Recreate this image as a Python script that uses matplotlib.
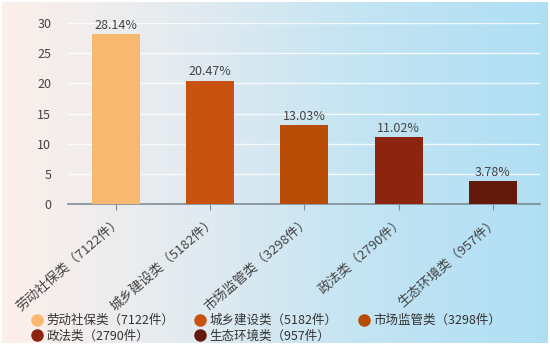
import numpy as np
import matplotlib.pyplot as plt
from matplotlib.colors import LinearSegmentedColormap
from matplotlib.lines import Line2D

plt.rcParams['font.family'] = ['Noto Sans CJK SC', 'DejaVu Sans']

# data
categories = ['劳动社保类（7122件）', '城乡建设类（5182件）', '市场监管类（3298件）',
              '政法类（2790件）', '生态环境类（957件）']
percents = [28.14, 20.47, 13.03, 11.02, 3.78]
colors = ['#f8b870', '#c8520f', '#b94c04', '#8c2410', '#641a0a']

fig = plt.figure(figsize=(5.5, 3.45), dpi=100)

# background gradient pink -> light blue
bg = fig.add_axes([0.004, 0.006, 0.992, 0.988], zorder=-10)
cmap = LinearSegmentedColormap.from_list('bg', ['#fdefea', '#e3ebf0', '#c3e4f3', '#b0dff5'])
grad = np.linspace(0, 1, 256).reshape(1, -1)
bg.imshow(grad, aspect='auto', cmap=cmap, extent=[0, 1, 0, 1])
bg.axis('off')

ax = fig.add_axes([0.1236, 0.409, 0.858, 0.524])
ax.patch.set_alpha(0)
x = np.arange(len(categories))
bars = ax.bar(x, percents, width=0.51, color=colors, zorder=3)
for xi, p in zip(x, percents):
    ax.text(xi, p + 0.4, f'{p:.2f}%', ha='center', va='bottom', fontsize=9, color='#444444')

ax.set_ylim(0, 30)
ax.set_xlim(-0.51, 4.5)
ax.set_yticks([0, 5, 10, 15, 20, 25, 30])
ax.yaxis.grid(True, color='white', linewidth=1, alpha=0.8, zorder=0)
ax.set_xticks(x)
ax.set_xticklabels(categories, rotation=41, ha='right', rotation_mode='anchor', fontsize=9.5, color='#444444')
ax.tick_params(axis='y', length=0, labelsize=9, labelcolor='#444444', pad=12)
ax.tick_params(axis='x', length=4, color='#7f8c96', pad=4)
for s in ['top', 'right', 'left']:
    ax.spines[s].set_visible(False)
ax.spines['bottom'].set_color('#7f8c96')
ax.spines['bottom'].set_linewidth(1.2)

# legend filled row by row
order = [0, 3, 1, 4, 2]
handles = [Line2D([], [], marker='o', linestyle='none', markersize=8, markerfacecolor=colors[i],
                  markeredgecolor=colors[i]) for i in order]
labels = [categories[i] for i in order]
fig.legend(handles, labels, loc='lower left', bbox_to_anchor=(0.035, -0.025), ncol=3,
           frameon=False, fontsize=9, handletextpad=0.25, columnspacing=1.6,
           labelspacing=0.2, handlelength=1.0, labelcolor='#333333')

fig.savefig('out.png', dpi=100)
